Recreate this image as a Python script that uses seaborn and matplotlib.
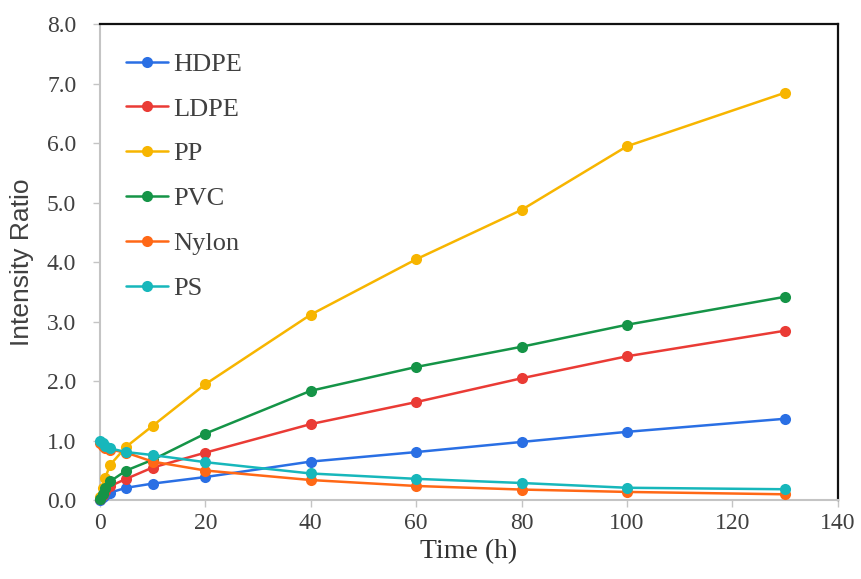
import matplotlib
matplotlib.use("Agg")
import matplotlib.pyplot as plt
import seaborn as sns
import pandas as pd

time_h = [0, 0.5, 1, 2, 5, 10, 20, 40, 60, 80, 100, 130]
hdpe = [0.00, 0.05, 0.09, 0.13, 0.21, 0.28, 0.39, 0.65, 0.81, 0.98, 1.15, 1.37]
ldpe = [0.02, 0.08, 0.15, 0.24, 0.36, 0.55, 0.80, 1.28, 1.65, 2.05, 2.42, 2.85]
pp = [0.05, 0.20, 0.38, 0.60, 0.90, 1.25, 1.95, 3.12, 4.05, 4.88, 5.95, 6.85]
pvc = [0.02, 0.10, 0.20, 0.32, 0.50, 0.68, 1.12, 1.84, 2.24, 2.58, 2.95, 3.42]
nylon = [0.97, 0.92, 0.88, 0.85, 0.80, 0.65, 0.50, 0.34, 0.24, 0.18, 0.14, 0.10]
ps = [1.00, 0.96, 0.92, 0.87, 0.81, 0.76, 0.64, 0.45, 0.36, 0.29, 0.21, 0.185]

series_names = ["HDPE", "LDPE", "PP", "PVC", "Nylon", "PS"]
series_values = [hdpe, ldpe, pp, pvc, nylon, ps]
colors = ["#2a6fe4", "#ea3b35", "#f7b500", "#159447", "#ff6816", "#17b7bb"]

rows = []
for name, vals in zip(series_names, series_values):
    for t, v in zip(time_h, vals):
        rows.append({"Time (h)": t, "Intensity Ratio": v, "Polymer": name})
df = pd.DataFrame(rows)

sns.set_theme(style="white")
plt.rcParams["font.family"] = ["Liberation Serif", "DejaVu Serif"]

fig = plt.figure(figsize=(8.61, 5.79), dpi=100)
ax = fig.add_axes([0.116, 0.136, 0.857, 0.822])

sns.lineplot(data=df, x="Time (h)", y="Intensity Ratio", hue="Polymer",
             hue_order=series_names, palette=colors, marker="o",
             markersize=8, markeredgewidth=0, linewidth=1.8,
             dashes=False, ax=ax, clip_on=False, zorder=3)

ax.set_xlim(0, 140)
ax.set_ylim(0, 8)
ax.set_xticks(range(0, 141, 20))
ax.set_yticks([i for i in range(0, 9)])
ax.set_yticklabels([f"{i:.1f}" for i in range(0, 9)])

for s in ["left", "bottom"]:
    ax.spines[s].set_color("#c4c4c4")
    ax.spines[s].set_linewidth(1.5)
for s in ["top", "right"]:
    ax.spines[s].set_color("#111111")
    ax.spines[s].set_linewidth(1.6)

ax.tick_params(axis="both", which="major", direction="out", length=5,
               width=1, color="#c4c4c4", labelsize=17, labelcolor="#404040",
               left=True, bottom=True)
ax.tick_params(axis="y", pad=12)
ax.tick_params(axis="x", pad=4)

ax.set_xlabel("Time (h)", fontsize=20, color="#303030", labelpad=4,
              family=["Liberation Serif"])
ax.set_ylabel("Intensity Ratio", fontsize=19, color="#404040", labelpad=9,
              family=["Liberation Sans"])

leg = ax.legend(loc="upper left", frameon=False, fontsize=19,
                handlelength=1.6, handletextpad=0.2, labelspacing=0.81,
                borderaxespad=0.3, bbox_to_anchor=(0.01, 0.98))
for t in leg.get_texts():
    t.set_color("#404040")

fig.savefig("out.png", dpi=100)
